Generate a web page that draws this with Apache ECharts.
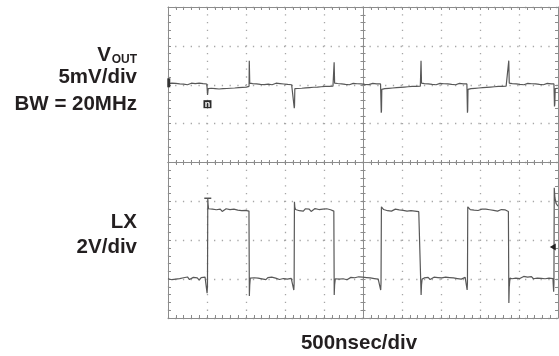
<!DOCTYPE html>
<html>
<head>
<meta charset="utf-8">
<script src="https://cdn.jsdelivr.net/npm/echarts@6/dist/echarts.min.js"></script>
<style>
  html, body { margin: 0; padding: 0; background: #fff; }
  #chart { width: 559px; height: 356px; }
</style>
</head>
<body>
<div id="chart"></div>
<script>
// Horizontal scale: 500 ns per division, 10 divisions
const timeRange = [0, 5000];
const timeStep = 500;
// Channel 1: output ripple, 5 mV per division
const voutRange = [-30, 10];
const voutStep = 5;
// Channel 2: switch node, 2 V per division
const lxRange = [-2, 14];
const lxStep = 2;

// Output voltage ripple, [time ns, mV]
const voutTrace = [
  [0,0.15],[25,0.05],[50,0.2],[75,0.1],[100,0.18],[125,0.02],[150,0.12],[175,0.22],[200,0.08],[225,0.15],
  [250,0.0],[275,0.12],[300,0.2],[325,0.06],[350,0.14],[375,0.1],[400,0.22],[425,0.05],[450,0.15],[475,0.08],[498,0.1],
  [503,0.0],[507,-1.3],[511,-1.1],[515,-0.5],
  [530,-0.6],[555,-0.45],[580,-0.62],[605,-0.5],[630,-0.4],[655,-0.55],[680,-0.42],[705,-0.5],[730,-0.38],[755,-0.48],
  [780,-0.35],[805,-0.45],[830,-0.3],[855,-0.42],[880,-0.28],[905,-0.36],[930,-0.25],[955,-0.33],[980,-0.2],[1005,-0.3],[1030,-0.18],
  [1039,-0.2],[1042,3.1],[1045,3.0],[1048,0.2],
  [1060,0.05],[1085,0.15],[1110,0.0],[1135,0.12],[1160,0.2],[1185,0.05],[1210,0.14],[1235,0.02],[1260,0.18],[1285,0.08],
  [1310,0.15],[1335,0.0],[1360,0.12],[1385,0.2],[1410,0.06],[1435,0.15],[1460,0.02],[1485,0.1],[1510,0.18],[1535,0.04],
  [1560,0.12],[1585,0.0],[1610,0.1],
  [1616,0.05],[1619,-3.0],[1622,-2.7],[1626,-0.5],
  [1640,-0.6],[1665,-0.48],[1690,-0.58],[1715,-0.45],[1740,-0.52],[1765,-0.4],[1790,-0.5],[1815,-0.36],[1840,-0.46],[1865,-0.32],
  [1890,-0.42],[1915,-0.3],[1940,-0.4],[1965,-0.26],[1990,-0.35],[2015,-0.22],[2040,-0.32],[2065,-0.2],[2090,-0.28],[2115,-0.18],
  [2127,-0.2],[2130,2.9],[2133,2.8],[2136,0.2],
  [2150,0.05],[2175,0.16],[2200,0.02],[2225,0.12],[2250,0.2],[2275,0.04],[2300,0.14],[2325,0.0],[2350,0.1],[2375,0.18],
  [2400,0.05],[2425,0.13],[2450,0.0],[2475,0.12],[2500,0.2],[2525,0.06],[2550,0.15],[2575,0.02],[2600,0.1],[2625,0.17],
  [2650,0.04],[2675,0.12],[2700,0.0],[2725,0.1],
  [2731,0.05],[2734,-3.6],[2737,-3.3],[2741,-0.6],
  [2755,-0.62],[2780,-0.5],[2805,-0.6],[2830,-0.46],[2855,-0.55],[2880,-0.42],[2905,-0.5],[2930,-0.38],[2955,-0.46],[2980,-0.34],
  [3005,-0.42],[3030,-0.3],[3055,-0.38],[3080,-0.26],[3105,-0.34],[3130,-0.22],[3155,-0.3],[3180,-0.2],[3205,-0.27],[3235,-0.18],
  [3241,-0.2],[3244,3.1],[3247,3.0],[3250,0.2],
  [3262,0.06],[3287,0.15],[3312,0.02],[3337,0.12],[3362,0.2],[3387,0.05],[3412,0.14],[3437,0.0],[3462,0.1],[3487,0.18],
  [3512,0.04],[3537,0.13],[3562,0.02],[3587,0.12],[3612,0.2],[3637,0.05],[3662,0.15],[3687,0.0],[3712,0.1],[3737,0.17],
  [3762,0.04],[3787,0.12],[3812,0.0],[3832,0.1],
  [3836,0.05],[3839,-3.6],[3842,-3.3],[3846,-0.6],
  [3860,-0.62],[3885,-0.5],[3910,-0.6],[3935,-0.46],[3960,-0.55],[3985,-0.42],[4010,-0.5],[4035,-0.38],[4060,-0.46],[4085,-0.34],
  [4110,-0.42],[4135,-0.3],[4160,-0.38],[4185,-0.26],[4210,-0.34],[4235,-0.22],[4260,-0.3],[4285,-0.2],[4310,-0.27],[4335,-0.18],[4360,-0.22],
  [4366,-0.2],[4369,3.1],[4372,3.0],[4375,0.2],
  [4388,0.06],[4413,0.15],[4438,0.02],[4463,0.12],[4488,0.2],[4513,0.05],[4538,0.14],[4563,0.0],[4588,0.1],[4613,0.18],
  [4638,0.04],[4663,0.13],[4688,0.02],[4713,0.12],[4738,0.2],[4763,0.05],[4788,0.15],[4813,0.0],[4838,0.1],[4863,0.17],
  [4888,0.04],[4913,0.12],[4938,0.02],[4948,0.1],
  [4952,0.05],[4955,-2.8],[4959,-2.5],[4964,-0.5],
  [4980,-0.55],[5000,-0.45]
];

// Switch node voltage, [time ns, V]
const lxTrace = [
  [0,0.02],[25,0.08],[50,-0.03],[75,0.06],[100,0.0],[125,0.1],[150,0.03],[175,-0.04],[200,0.07],[225,0.02],
  [250,0.11],[275,-0.02],[300,0.05],[325,0.09],[350,0.0],[375,0.06],[400,-0.05],[425,0.08],[450,0.02],[475,0.1],[495,0.04],
  [501,-0.72],[506,-0.35],[510,4.16],[514,3.85],[520,3.62],
  [545,3.55],[570,3.6],[595,3.5],[620,3.57],[645,3.52],[670,3.6],[695,3.48],[720,3.56],[745,3.62],[770,3.53],
  [795,3.58],[820,3.5],[845,3.6],[870,3.64],[895,3.55],[920,3.6],[945,3.52],[970,3.58],[995,3.54],[1020,3.6],[1038,3.5],
  [1043,-0.87],[1048,-0.3],[1055,0.05],
  [1080,0.0],[1105,0.07],[1130,-0.02],[1155,0.05],[1180,0.1],[1205,0.01],[1230,0.06],[1255,-0.03],[1280,0.08],[1305,0.03],
  [1330,0.1],[1355,0.0],[1380,0.05],[1405,0.09],[1430,-0.02],[1455,0.06],[1480,0.03],[1505,0.1],[1530,0.0],[1555,0.07],
  [1580,0.04],[1605,0.1],
  [1613,-0.56],[1617,-0.2],[1621,3.98],[1626,3.7],[1635,3.58],
  [1660,3.6],[1685,3.52],[1710,3.58],[1735,3.5],[1760,3.62],[1785,3.55],[1810,3.6],[1835,3.48],[1860,3.57],[1885,3.63],
  [1910,3.54],[1935,3.58],[1960,3.5],[1985,3.6],[2010,3.55],[2035,3.62],[2060,3.52],[2085,3.57],[2110,3.52],[2126,3.5],
  [2131,-0.82],[2136,-0.3],[2145,0.02],
  [2170,0.08],[2195,0.0],[2220,0.06],[2245,0.02],[2270,0.1],[2295,-0.03],[2320,0.05],[2345,0.09],[2370,0.01],[2395,0.07],
  [2420,0.04],[2445,0.12],[2470,0.05],[2495,0.1],[2520,0.02],[2545,0.08],[2570,0.0],[2595,0.06],[2620,0.1],[2645,0.03],
  [2670,0.08],[2695,0.0],[2718,0.06],
  [2727,-0.56],[2731,-0.2],[2736,3.72],[2742,3.62],
  [2765,3.58],[2790,3.6],[2815,3.52],[2840,3.57],[2865,3.5],[2890,3.55],[2915,3.6],[2940,3.52],[2965,3.56],[2990,3.48],
  [3015,3.54],[3040,3.58],[3065,3.5],[3090,3.55],[3115,3.52],[3140,3.58],[3165,3.5],[3190,3.53],[3215,3.47],[3238,3.45],
  [3245,-0.82],[3250,-0.3],[3258,0.0],
  [3285,0.06],[3310,0.02],[3335,0.09],[3360,-0.02],[3385,0.05],[3410,0.1],[3435,0.03],[3460,0.08],[3485,0.0],[3510,0.06],
  [3535,0.02],[3560,0.1],[3585,0.04],[3610,0.08],[3635,-0.02],[3660,0.06],[3685,0.1],[3710,0.03],[3735,0.07],[3760,0.0],
  [3785,0.05],[3810,0.09],[3828,0.05],
  [3835,-0.56],[3839,-0.2],[3843,3.72],[3850,3.62],
  [3875,3.58],[3900,3.62],[3925,3.55],[3950,3.6],[3975,3.53],[4000,3.58],[4025,3.6],[4050,3.55],[4075,3.6],[4100,3.52],
  [4125,3.57],[4150,3.6],[4175,3.54],[4200,3.58],[4225,3.5],[4250,3.55],[4275,3.58],[4300,3.52],[4325,3.56],[4350,3.5],[4364,3.48],
  [4370,-1.23],[4375,-0.4],[4384,0.05],
  [4410,0.02],[4435,0.1],[4460,0.05],[4485,0.12],[4510,0.03],[4535,0.09],[4560,0.14],[4585,0.04],[4610,0.1],[4635,0.06],
  [4660,0.13],[4685,0.02],[4710,0.09],[4735,0.05],[4760,0.12],[4785,0.04],[4810,0.08],[4835,0.02],[4860,0.1],[4885,0.05],
  [4910,0.08],[4935,0.03],
  [4944,-0.65],[4948,-0.2],[4952,4.7],[4960,4.2],[4975,3.9],[5000,3.75]
];

// Screen annotations
const ch1Label = ['V', 'OUT', '5mV/div', 'BW = 20MHz'];
const ch2Label = ['LX', '2V/div'];
const timebaseLabel = '500nsec/div';

const BORDER = '#8c8c8c';
const DOTS = '#a6a6a6';
const TRACE = '#585858';
const INK = '#231f20';
const FONT = '"Liberation Sans", Arial, Helvetica, sans-serif';

function scopeAxis(range, step, extra) {
  return Object.assign({
    type: 'value',
    min: range[0],
    max: range[1],
    interval: step,
    axisLabel: { show: false },
    splitLine: { show: false },
    axisLine: { show: true, onZero: false, lineStyle: { color: BORDER, width: 1 } },
    axisTick: { show: true, inside: true, length: 3, lineStyle: { color: BORDER, width: 1 } },
    minorTick: { show: true, splitNumber: 5, length: 3, lineStyle: { color: BORDER, width: 1 } }
  }, extra);
}
const dotted = { show: true, lineStyle: { color: DOTS, width: 1.3, type: [1.3, 6.475], dashOffset: 0.65 } };

const chart = echarts.init(document.getElementById('chart'), null, { renderer: 'canvas' });
chart.setOption({
  animation: false,
  backgroundColor: '#ffffff',
  grid: { left: 168, top: 7, width: 390, height: 311, outerBoundsMode: 'none', containLabel: false },
  xAxis: [
    scopeAxis(timeRange, timeStep, { position: 'bottom', splitLine: dotted }),
    scopeAxis(timeRange, timeStep, { position: 'top' }),
    // centre graticule line with ticks on both sides
    scopeAxis(timeRange, timeStep, { position: 'bottom', offset: -155.5,
      axisTick: { show: true, inside: true, length: 2.5, lineStyle: { color: BORDER } },
      minorTick: { show: true, splitNumber: 5, length: 2.5, lineStyle: { color: BORDER } } }),
    scopeAxis(timeRange, timeStep, { position: 'bottom', offset: -155.5,
      axisTick: { show: true, inside: false, length: 2.5, lineStyle: { color: BORDER } },
      minorTick: { show: true, splitNumber: 5, length: 2.5, lineStyle: { color: BORDER } } })
  ],
  yAxis: [
    scopeAxis(voutRange, voutStep, { position: 'left', splitLine: dotted }),
    scopeAxis(lxRange, lxStep, { position: 'right' }),
    scopeAxis(lxRange, lxStep, { position: 'left', offset: -195,
      axisTick: { show: true, inside: true, length: 2.5, lineStyle: { color: BORDER } },
      minorTick: { show: true, splitNumber: 5, length: 2.5, lineStyle: { color: BORDER } } }),
    scopeAxis(lxRange, lxStep, { position: 'left', offset: -195,
      axisTick: { show: true, inside: false, length: 2.5, lineStyle: { color: BORDER } },
      minorTick: { show: true, splitNumber: 5, length: 2.5, lineStyle: { color: BORDER } } })
  ],
  series: [
    {
      name: 'VOUT', type: 'line', xAxisIndex: 0, yAxisIndex: 0,
      data: voutTrace, showSymbol: false, silent: true,
      lineStyle: { color: TRACE, width: 1.2 },
      markPoint: {
        silent: true,
        label: { show: false },
        data: [
          { coord: [10, 0.25], symbol: 'rect', symbolSize: [3, 9], itemStyle: { color: '#333' } },
          { coord: [506, -2.5], symbol: 'rect', symbolSize: [8, 8], itemStyle: { color: '#2b2b2b' },
            label: { show: true, position: 'inside', formatter: 'n', color: '#fff', fontSize: 9, fontWeight: 'bold', fontFamily: FONT } }
        ]
      }
    },
    {
      name: 'LX', type: 'line', xAxisIndex: 0, yAxisIndex: 1,
      data: lxTrace, showSymbol: false, silent: true,
      lineStyle: { color: TRACE, width: 1.2 },
      markPoint: {
        silent: true,
        label: { show: false },
        data: [
          { coord: [510, 4.16], symbol: 'rect', symbolSize: [7, 1.5], itemStyle: { color: '#555' } },
          { coord: [4933, 1.65], symbol: 'triangle', symbolRotate: 90, symbolSize: [7, 6], itemStyle: { color: '#222' } }
        ]
      }
    }
  ],
  graphic: [
    { type: 'text', x: 111, y: 55, style: { text: ch1Label[0], font: 'bold 20.5px ' + FONT, fill: INK, align: 'right', verticalAlign: 'middle' } },
    { type: 'text', x: 137, y: 59.5, style: { text: ch1Label[1], font: 'bold 12px ' + FONT, fill: INK, align: 'right', verticalAlign: 'middle' } },
    { type: 'text', x: 137, y: 77, style: { text: ch1Label[2], font: 'bold 20.5px ' + FONT, fill: INK, align: 'right', verticalAlign: 'middle' } },
    { type: 'text', x: 137, y: 104, style: { text: ch1Label[3], font: 'bold 20.5px ' + FONT, fill: INK, align: 'right', verticalAlign: 'middle' } },
    { type: 'text', x: 137, y: 222, style: { text: ch2Label[0], font: 'bold 20.5px ' + FONT, fill: INK, align: 'right', verticalAlign: 'middle' } },
    { type: 'text', x: 137, y: 247, style: { text: ch2Label[1], font: 'bold 20.5px ' + FONT, fill: INK, align: 'right', verticalAlign: 'middle' } },
    { type: 'text', x: 359, y: 343.5, style: { text: timebaseLabel, font: 'bold 20.5px ' + FONT, fill: INK, align: 'center', verticalAlign: 'middle' } }
  ]
});
</script>
</body>
</html>
